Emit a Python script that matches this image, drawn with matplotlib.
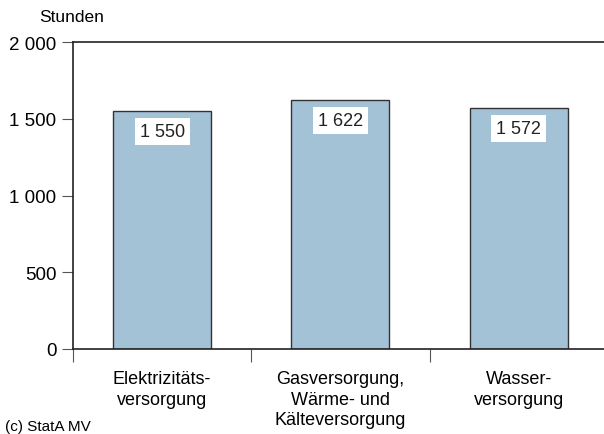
import numpy as np
import matplotlib.pyplot as plt

plt.rcParams['font.family'] = ['Liberation Sans', 'DejaVu Sans']

# Daten
kategorien = ['Elektrizitäts-\nversorgung', 'Gasversorgung,\nWärme- und\nKälteversorgung', 'Wasser-\nversorgung']
stunden = [1550, 1622, 1572]
labels = ['1 550', '1 622', '1 572']

fig = plt.figure(figsize=(6.04, 4.35), dpi=100)
ax = fig.add_axes([73/604, 85/435, 1 - 73/604, 307/435])

x = np.arange(len(kategorien))
ax.bar(x, stunden, width=0.55, color='#a4c2d6', edgecolor='#333333', linewidth=1.0, zorder=2)

for xi, v, lab in zip(x, stunden, labels):
    ax.text(xi, v - 135, lab, ha='center', va='center', fontsize=13, color='#222222',
            bbox=dict(facecolor='white', edgecolor='none', pad=3.5), zorder=3)

ax.set_xlim(-0.5, 2.478)
ax.set_ylim(0, 2000)
ax.set_yticks([0, 500, 1000, 1500, 2000])
ax.set_yticklabels(['0', '500', '1 000', '1 500', '2 000'], fontsize=13.5)
ax.tick_params(axis='y', length=8, width=0.8, color='#555555', pad=4)

# Kategoriegrenzen als Ticks, Beschriftung in der Mitte
ax.set_xticks([-0.5, 0.5, 1.5])
ax.set_xticklabels([])
ax.tick_params(axis='x', length=9, width=0.8, color='#555555')
for xi, k in zip(x, kategorien):
    ax.text(xi, -0.07, k, transform=ax.get_xaxis_transform(), ha='center', va='top',
            fontsize=13, linespacing=1.25)

for s in ['left', 'bottom', 'top']:
    ax.spines[s].set_color('#222222')
    ax.spines[s].set_linewidth(1.2)
ax.spines['right'].set_visible(False)

fig.text(39/604, 1 - 17/435, 'Stunden', fontsize=12.5, va='center')
fig.text(5/604, 1 - 427/435, '(c) StatA MV', fontsize=11, va='center')

fig.savefig('out.png', dpi=100)
